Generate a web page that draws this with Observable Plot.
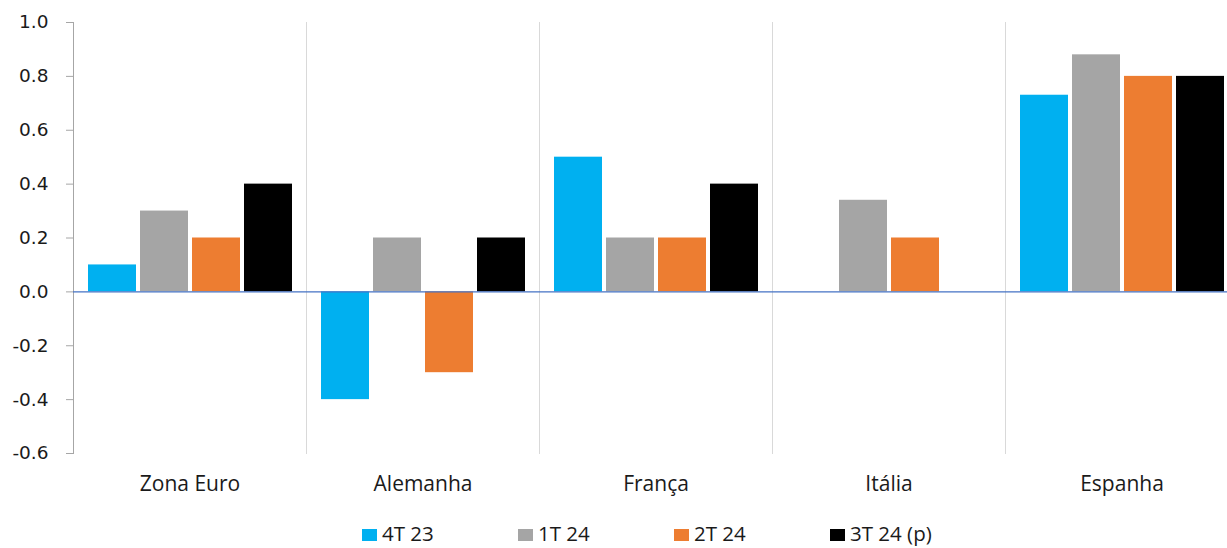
<!DOCTYPE html>
<html>
<head>
<meta charset="utf-8">
<script src="https://cdn.jsdelivr.net/npm/d3@7"></script>
<script src="https://cdn.jsdelivr.net/npm/@observablehq/plot@0.6"></script>
<style>
  html, body { margin: 0; padding: 0; background: #fff; overflow: hidden; width: 1227px; height: 548px; }
  #wrap { position: relative; width: 1227px; height: 548px; overflow: hidden; }
  #chart svg { max-width: none !important; display: block; }
  #legend { position: absolute; left: 362px; top: 523px; display: flex;
            font-family: "Open Sans", sans-serif; font-size: 20.5px; line-height: 20px; color: #1a1a1a; }
  .item { display: flex; align-items: flex-start; gap: 5px; width: 156px; white-space: nowrap; }
  .sw { width: 15px; height: 12.5px; display: inline-block; margin-top: 5.5px; }
</style>
</head>
<body>
<div id="wrap">
  <div id="chart"></div>
  <div id="legend"></div>
</div>
<script>
const categories = ["Zona Euro", "Alemanha", "França", "Itália", "Espanha"];
const seriesNames = ["4T 23", "1T 24", "2T 24", "3T 24 (p)"];
const seriesColors = ["#00B0F0", "#A5A5A5", "#ED7D31", "#000000"];
const values4T23 = [0.1, -0.4, 0.5, 0.0, 0.73];
const values1T24 = [0.3, 0.2, 0.2, 0.34, 0.88];
const values2T24 = [0.2, -0.3, 0.2, 0.2, 0.8];
const values3T24p = [0.4, 0.2, 0.4, 0.0, 0.8];
const yTicks = [-0.6, -0.4, -0.2, 0.0, 0.2, 0.4, 0.6, 0.8, 1.0];

const allSeries = [values4T23, values1T24, values2T24, values3T24p];
const rows = [];
categories.forEach((c, i) => {
  seriesNames.forEach((s, j) => rows.push({category: c, series: s, value: allSeries[j][i]}));
});

const chart = Plot.plot({
  width: 1238,
  height: 510,
  marginLeft: 73,
  marginRight: 0,
  marginTop: 22,
  marginBottom: 57,
  style: {fontFamily: "'DejaVu Sans', sans-serif", fontSize: "18px", color: "#1a1a1a", background: "#fff"},
  fx: {domain: categories, padding: 0, label: null},
  x: {domain: seriesNames, axis: null, paddingInner: 0.08, paddingOuter: 0.28},
  y: {domain: [-0.6, 1.0], label: null},
  color: {domain: seriesNames, range: seriesColors},
  marks: [
    Plot.frame({anchor: "left", stroke: "#d9d9d9"}),
    Plot.frame({anchor: "left", stroke: "#a6a6a6", facetAnchor: "left"}),
    Plot.barY(rows, {fx: "category", x: "series", y: "value", fill: "series"}),
    Plot.ruleY([0], {stroke: "#4472C4", strokeWidth: 1.3}),
    Plot.axisY({ticks: yTicks, tickSize: 7, tickPadding: 18, stroke: "#a6a6a6", fill: "#1a1a1a",
                tickFormat: d => d.toFixed(1), label: null, fontSize: 18.5}),
    Plot.axisFx({anchor: "bottom", tickSize: 0, tickPadding: 23, label: null, fontSize: 21,
                 fontFamily: "'Open Sans', sans-serif", fill: "#1a1a1a"})
  ]
});
document.getElementById("chart").appendChild(chart);

const legend = document.getElementById("legend");
seriesNames.forEach((s, j) => {
  const it = document.createElement("div");
  it.className = "item";
  const sw = document.createElement("span");
  sw.className = "sw";
  sw.style.background = seriesColors[j];
  const t = document.createElement("span");
  t.textContent = s;
  it.appendChild(sw);
  it.appendChild(t);
  legend.appendChild(it);
});
</script>
</body>
</html>
